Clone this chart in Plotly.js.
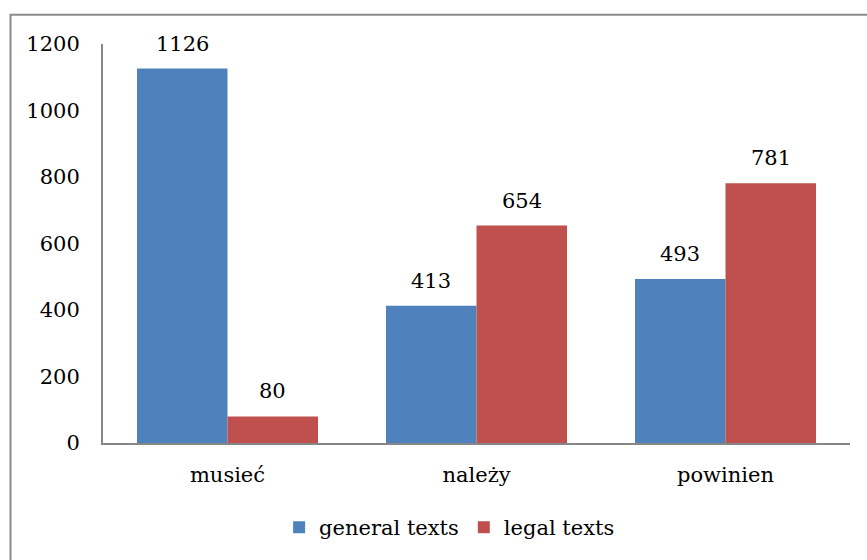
<!DOCTYPE html>
<html>
<head>
<meta charset="utf-8">
<script src="https://cdn.plot.ly/plotly-3.0.1.min.js"></script>
<style>html,body{margin:0;padding:0;background:#fff;}#chart{width:867px;height:560px;}</style>
</head>
<body>
<div id="chart"></div>
<script>
const categories = ["musieć", "należy", "powinien"];
const generalTexts = [1126, 413, 493];
const legalTexts = [80, 654, 781];
const seriesNames = ["general texts", "legal texts"];
const yTicks = [0, 200, 400, 600, 800, 1000, 1200];

const font = {family: "DejaVu Serif", size: 21, color: "#000"};

const traces = [
  {type: "bar", name: seriesNames[0], x: categories, y: generalTexts,
   marker: {color: "#4F81BD"}, hoverinfo: "none", offsetgroup: "g"},
  {type: "bar", name: seriesNames[1], x: categories, y: legalTexts,
   marker: {color: "#C0504D"}, hoverinfo: "none", offsetgroup: "l"}
];

const annotations = [];
const groupShift = 0.1818;
categories.forEach((c, i) => {
  annotations.push({x: i - groupShift, y: generalTexts[i], xref: "x", yref: "y", text: String(generalTexts[i]),
    showarrow: false, yanchor: "bottom", yshift: 11, font: font});
  annotations.push({x: i + groupShift, y: legalTexts[i], xref: "x", yref: "y", text: String(legalTexts[i]),
    showarrow: false, yanchor: "bottom", yshift: 11, font: font});
});

const layout = {
  width: 867, height: 560,
  margin: {l: 103, r: 17, t: 44, b: 115},
  paper_bgcolor: "#fff", plot_bgcolor: "#fff",
  font: font,
  barmode: "group", bargap: 0.273, bargroupgap: 0,
  showlegend: true,
  legend: {orientation: "h", x: 0.464, xanchor: "center", y: -0.212, yanchor: "middle",
           font: font, itemwidth: 30, traceorder: "normal"},
  xaxis: {type: "category", showline: true, linecolor: "#868686", linewidth: 2, ticks: "", showgrid: false,
          tickfont: font, zeroline: false, ticklabelstandoff: 12},
  yaxis: {range: [0, 1200], tickvals: yTicks, showline: true, linecolor: "#868686", linewidth: 2,
          ticks: "", showgrid: false, zeroline: false, tickfont: font, ticklabelstandoff: 17},
  annotations: annotations,
  shapes: [{type: "rect", xref: "paper", yref: "paper",
            x0: (10.5 - 103) / 747, x1: 1.2, y0: -0.5, y1: (445 - 14.5) / 401,
            line: {color: "#8a8a8a", width: 2}, fillcolor: "rgba(0,0,0,0)", layer: "below"}]
};

Plotly.newPlot("chart", traces, layout, {staticPlot: true});
</script>
</body>
</html>
